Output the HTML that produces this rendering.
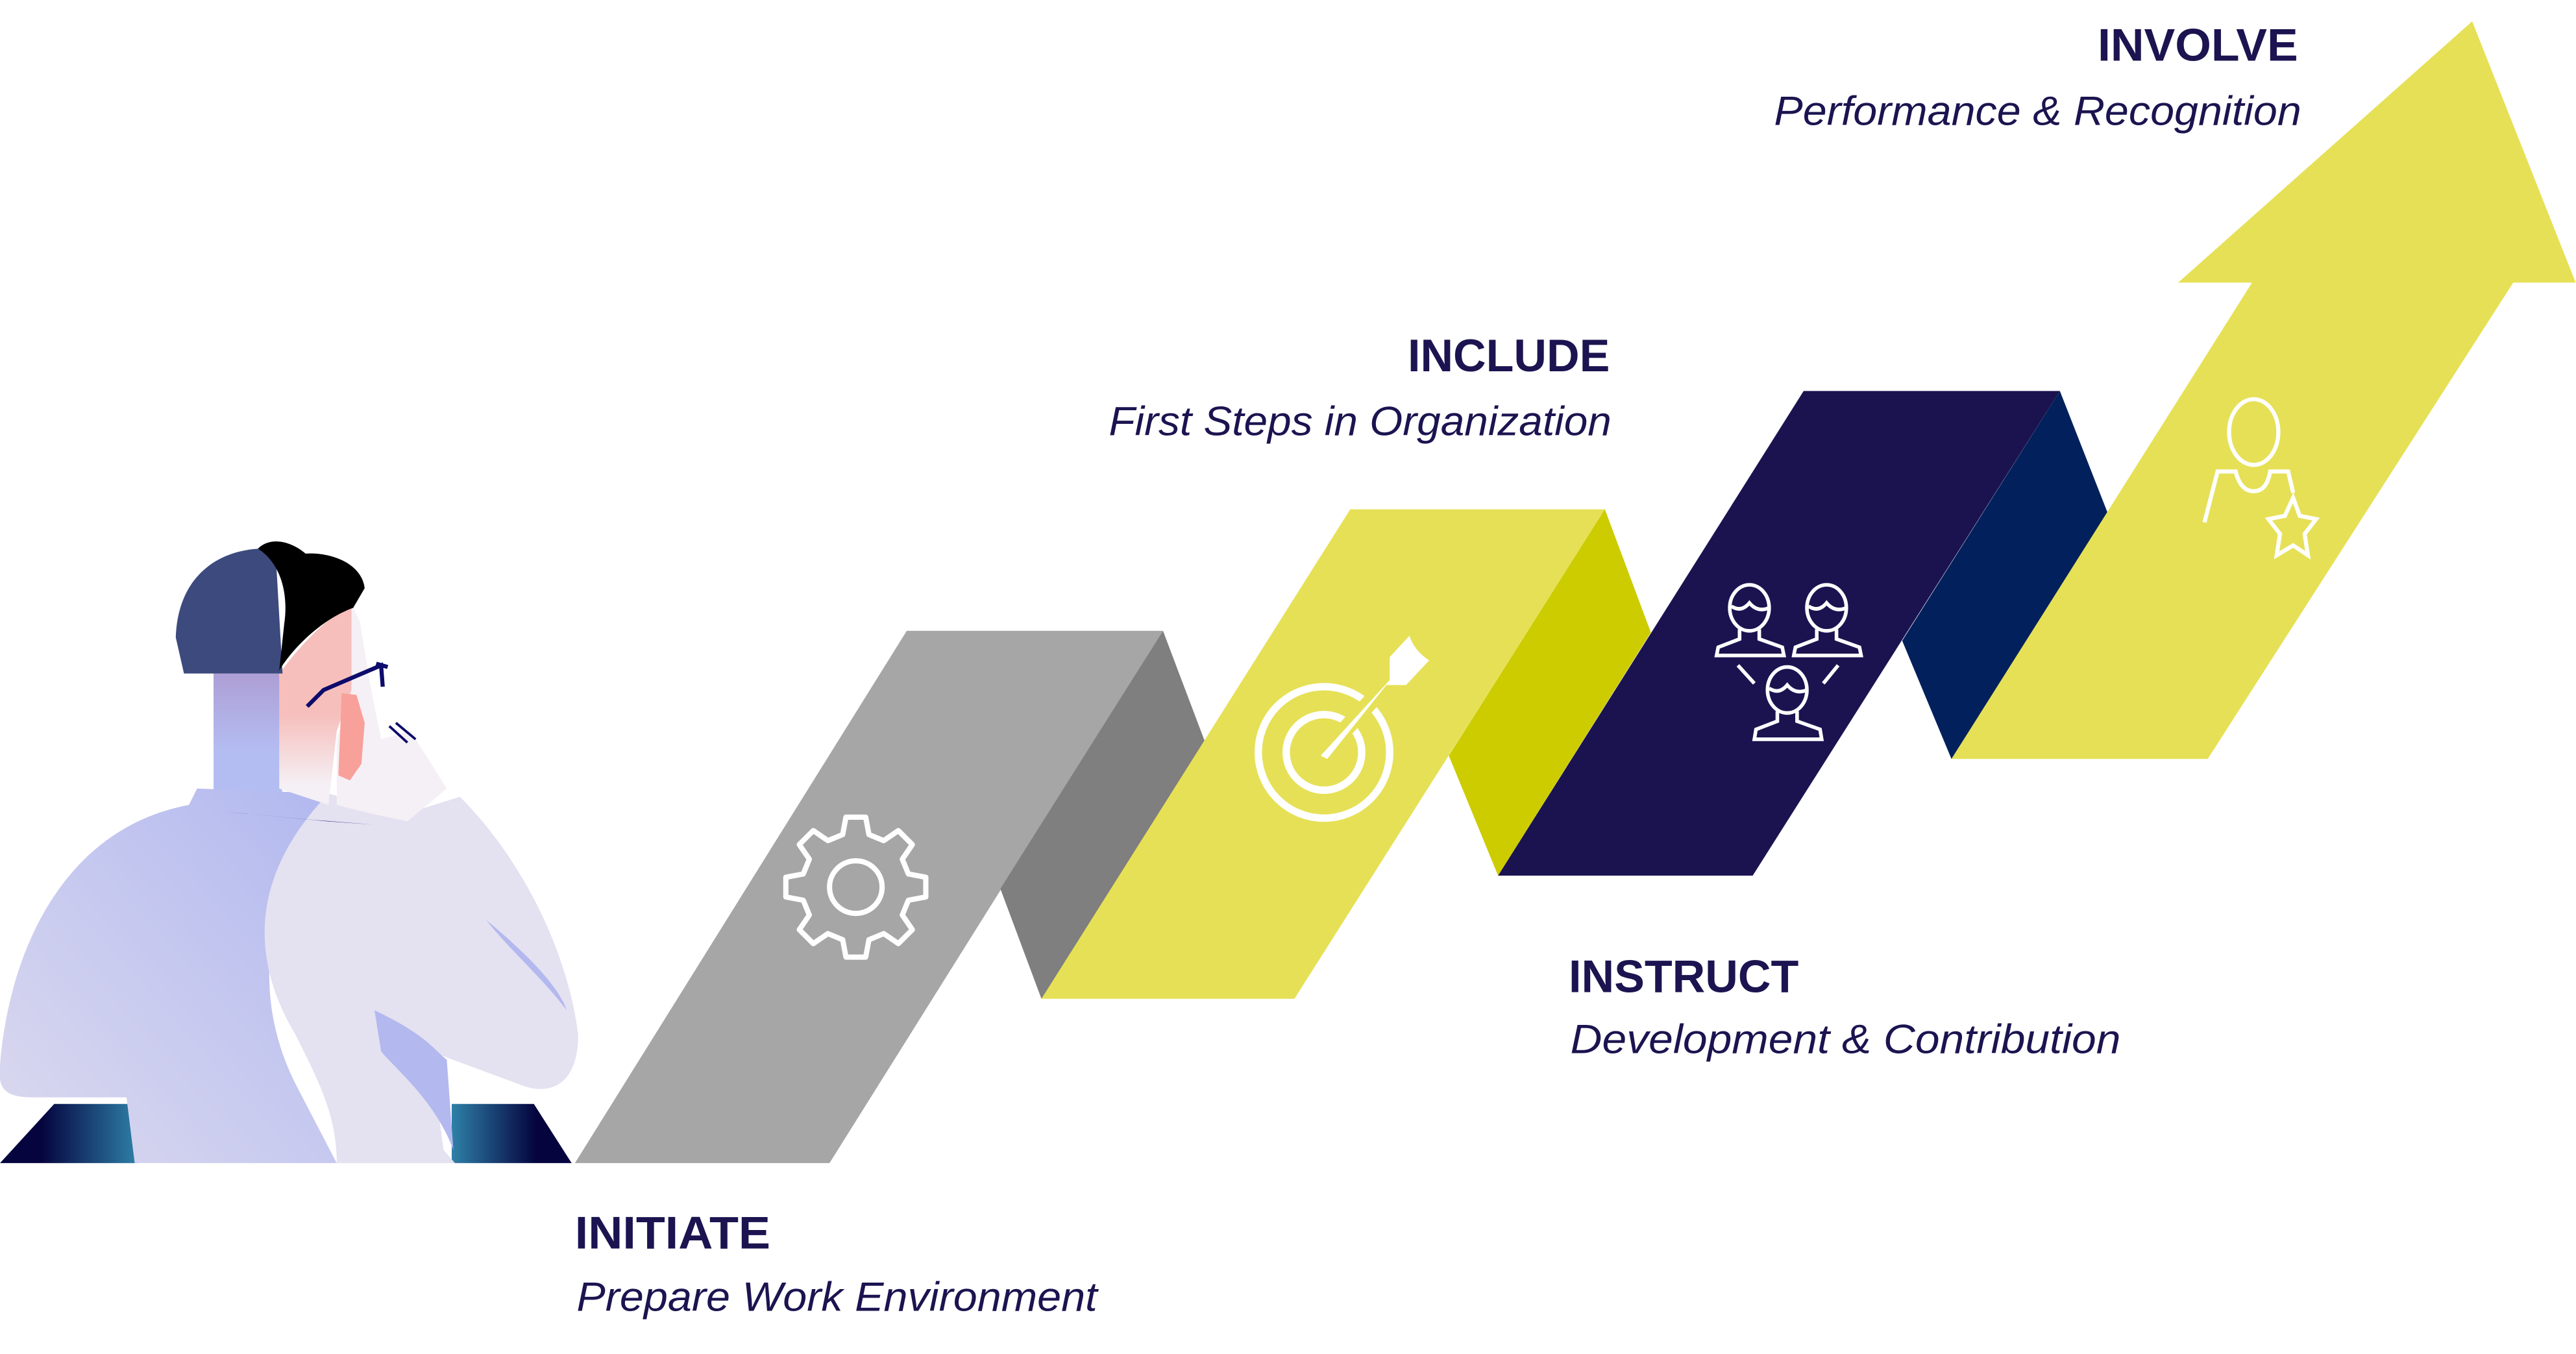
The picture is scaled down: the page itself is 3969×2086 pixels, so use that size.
<!DOCTYPE html>
<html><head><meta charset="utf-8"><style>
html,body{margin:0;padding:0;background:#fff;}
svg{display:block}
text{font-family:"Liberation Sans",sans-serif;fill:#1b1450}
</style></head><body>
<svg width="3969" height="2086" viewBox="0 0 1568.2 824.2" xmlns="http://www.w3.org/2000/svg">
<defs>
<linearGradient id="deskL" x1="0" x2="1"><stop offset="0.3" stop-color="#05043f"/><stop offset="1" stop-color="#2e80a8"/></linearGradient>
<linearGradient id="deskR" x1="1" x2="0"><stop offset="0.3" stop-color="#05043f"/><stop offset="1" stop-color="#2e80a8"/></linearGradient>
<linearGradient id="back" x1="1" y1="0" x2="0" y2="1"><stop offset="0" stop-color="#b1b8ef"/><stop offset="1" stop-color="#dcdaef"/></linearGradient>
<linearGradient id="neck" x1="0" y1="0" x2="0" y2="1"><stop offset="0" stop-color="#ad9fd5"/><stop offset="0.6" stop-color="#b4bdf2"/></linearGradient>
<linearGradient id="face" x1="0" y1="0" x2="0" y2="1"><stop offset="0.55" stop-color="#f6bfbc"/><stop offset="0.9" stop-color="#f5f0f5"/></linearGradient>
</defs>

<!-- ribbon -->
<polygon points="350,708 552,384 708,384 505,708" fill="#a6a6a6"/>
<polygon points="708,384 736,458 634,608 609,541" fill="#7f7f7f"/>
<polygon points="634,608 822,310 977,310 788,608" fill="#e6e056"/>
<polygon points="977,310 1005,385 912,533 882,460" fill="#cccc00"/>
<polygon points="912,533 1098,238 1254,238 1067,533" fill="#1b1350"/>
<polygon points="1254,238 1283,312 1188,462 1158,390" fill="#02215c"/>
<polygon points="1188,462 1371,172 1326,172 1505,13 1568,172 1530,172 1344,462" fill="#e6e056"/>

<!-- gear -->
<g fill="none" stroke="#fff" stroke-width="3.2" stroke-linejoin="round">
<circle cx="521" cy="540" r="16"/>
<polygon points="513,508 515,497.4 527,497.4 529,508 538,511.7 546.9,505.6 555.4,514.1 549.3,523 553,532 563.6,534 563.6,546 553,548 549.3,557 555.4,565.9 546.9,574.4 538,568.3 529,572 527,582.6 515,582.6 513,572 504,568.3 495.1,574.4 486.6,565.9 492.7,557 489,548 478.4,546 478.4,534 489,532 492.7,523 486.6,514.1 495.1,505.6 504,511.7"/>
</g>

<!-- target -->
<g fill="none" stroke="#fff" stroke-width="4.5">
<circle cx="806" cy="458" r="40"/>
<circle cx="806" cy="458" r="23"/>
</g>
<line x1="806" y1="458" x2="850" y2="410" stroke="#e6e056" stroke-width="10"/>
<path d="M804,460 L846,414 L846,400 L858,387 Q861,396 870,402 L856,417 L844,417 L808,462 Z" fill="#fff"/>

<!-- people -->
<g fill="none" stroke="#fff" stroke-width="2.2">
<ellipse cx="1065" cy="370" rx="12" ry="14"/>
<path d="M1054,369 Q1060,373 1065,367 Q1070,373 1077,370"/>
<path d="M1059,383 L1059,389 L1046,394 L1045,399 L1086,399 L1085,394 L1071,389 L1071,383"/>
<ellipse cx="1112" cy="370" rx="12" ry="14"/>
<path d="M1101,369 Q1107,373 1112,367 Q1117,373 1124,370"/>
<path d="M1106,383 L1106,389 L1093,394 L1092,399 L1133,399 L1132,394 L1118,389 L1118,383"/>
<ellipse cx="1088" cy="420" rx="12" ry="14"/>
<path d="M1077,419 Q1083,423 1088,417 Q1093,423 1100,420"/>
<path d="M1082,433 L1082,439 L1069,444 L1068,450 L1109,450 L1108,444 L1094,439 L1094,433"/>
<path d="M1058,405 L1068,416 M1119,405 L1110,416"/>
</g>

<!-- person with star -->
<g fill="none" stroke="#fff" stroke-width="2.5">
<ellipse cx="1372" cy="263" rx="15" ry="20"/>
<path d="M1342,318 L1350,287 L1361,287 Q1364,299 1372,299 Q1380,299 1382,287 L1393,287 L1396,300"/>
<path d="M1396,303 L1400,314 L1410,316 L1403,325 L1405,338 L1396,332 L1386,338 L1388,325 L1381,316 L1391,314 Z"/>
</g>

<!-- desk -->
<polygon points="0,708 33,672 84,672 84,708" fill="url(#deskL)"/>
<polygon points="275,672 325,672 348,708 275,708" fill="url(#deskR)"/>

<!-- person -->
<path d="M130,410 L170,410 L172,490 L130,490 Z" fill="url(#neck)"/>
<path d="M52,620 L75,600 L78,660 L55,660 Z" fill="#b9bff0"/>
<path d="M0,648 C5,585 35,505 115,490 L120,480 L200,483 C165,540 150,600 180,660 L205,708 L82,708 L77,668 L20,668 C0,668 -1,660 0,648 Z" fill="url(#back)"/>
<path d="M200,483 L245,496 L280,485 C315,520 345,575 352,630 C352,660 335,668 316,660 L262,640 L270,700 L277,708 L205,708 C205,680 195,660 180,630 C150,580 155,530 200,483 Z" fill="#e4e1f1"/>
<path d="M228,615 C260,630 265,640 272,645 L276,700 C265,670 240,650 232,640 Z" fill="#b3b9ee"/>
<path d="M296,560 C320,580 340,600 345,615 C330,595 310,578 296,560 Z" fill="#b3b9ee"/>
<path d="M136,494 L200,500 L228,502 L190,499 Z" fill="#0d0b6b"/>
<path d="M170,410 C185,390 200,375 215,368 L214,420 L205,445 L200,490 L170,480 Z" fill="url(#face)"/>
<path d="M214,368 L219,378 L226,420 L232,450 L250,445 L272,480 L248,500 L225,495 L205,490 L205,450 L214,420 Z" fill="#f5f0f5"/>
<path d="M208,422 L217,423 L222,440 L220,465 L213,475 L206,472 Z" fill="#f8a09a"/>
<path d="M112,410 L107,388 C108,355 128,336 157,334 L168,340 L172,410 Z" fill="#3d4a7d"/>
<path d="M157,334 C165,326 178,330 186,337 C200,336 220,342 222,358 L215,370 C198,376 180,392 170,408 L173,380 C176,360 170,342 157,334 Z" fill="#000"/>
<path d="M187,430 L197,420 L232,405 L233,418 M229,404 L236,406" fill="none" stroke="#0d0b6b" stroke-width="2.5"/>
<path d="M237,442 L248,452 M241,440 L253,450" fill="none" stroke="#0d0b6b" stroke-width="1.5"/>

<!-- labels -->
<text x="350" y="760" font-size="28" font-weight="bold" textLength="119" lengthAdjust="spacingAndGlyphs">INITIATE</text>
<text x="351" y="798" font-size="25" font-style="italic" textLength="317" lengthAdjust="spacingAndGlyphs">Prepare Work Environment</text>
<text x="857" y="226" font-size="28" font-weight="bold" textLength="123" lengthAdjust="spacingAndGlyphs">INCLUDE</text>
<text x="675" y="265" font-size="25" font-style="italic" textLength="306" lengthAdjust="spacingAndGlyphs">First Steps in Organization</text>
<text x="955" y="604" font-size="28" font-weight="bold" textLength="140" lengthAdjust="spacingAndGlyphs">INSTRUCT</text>
<text x="956" y="641" font-size="25" font-style="italic" textLength="335" lengthAdjust="spacingAndGlyphs">Development &amp; Contribution</text>
<text x="1277" y="37" font-size="28" font-weight="bold" textLength="122" lengthAdjust="spacingAndGlyphs">INVOLVE</text>
<text x="1080" y="76" font-size="25" font-style="italic" textLength="321" lengthAdjust="spacingAndGlyphs">Performance &amp; Recognition</text>
</svg>
</body></html>
